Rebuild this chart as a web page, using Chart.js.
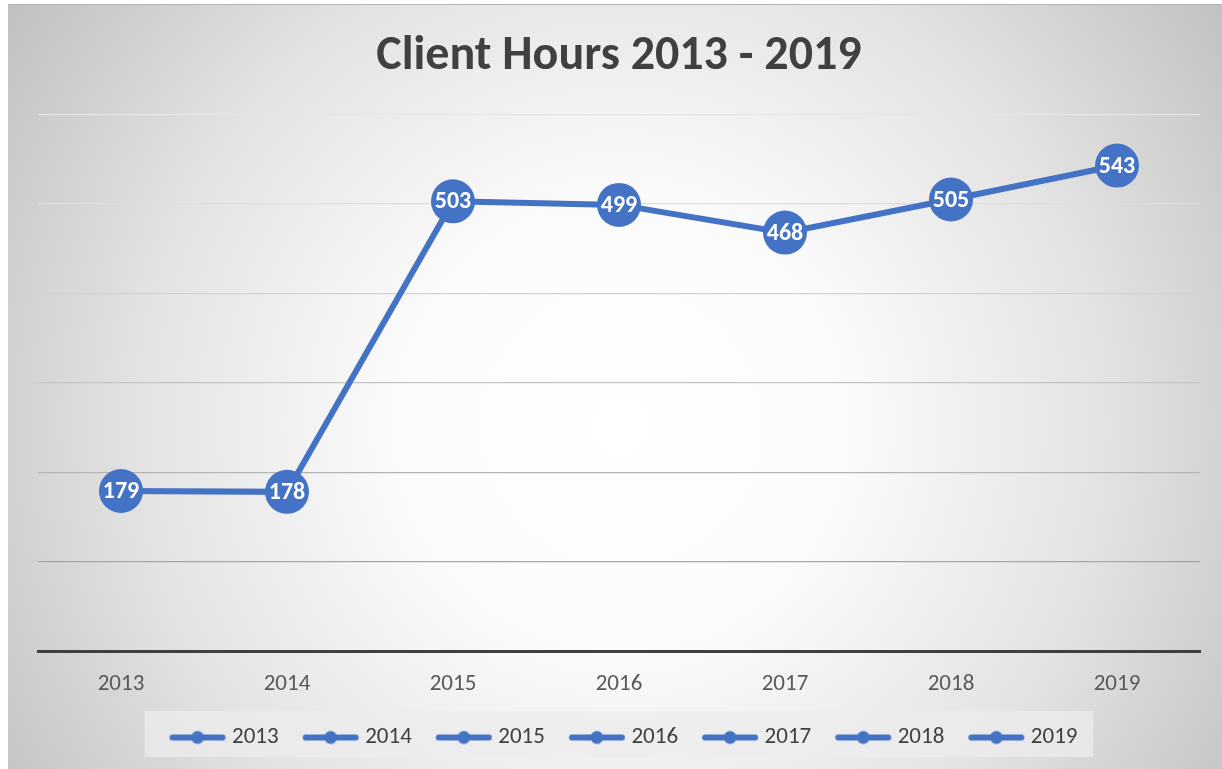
<!DOCTYPE html>
<html>
<head>
<meta charset="utf-8">
<script src="https://cdn.jsdelivr.net/npm/chart.js@4/dist/chart.umd.min.js"></script>
<style>
  html, body { margin: 0; padding: 0; background: #ffffff; }
  #wrap { position: absolute; left: 8px; top: 4px; width: 1214px; height: 765px; }
  #wrap::before { content: ""; position: absolute; left: 0; top: 0; right: 0; height: 1px; background: #b4b4b4; z-index: 2; }
  canvas { display: block; }
</style>
</head>
<body>
<div id="wrap"><canvas id="c" width="1214" height="765"></canvas></div>
<script>
const categories = ['2013', '2014', '2015', '2016', '2017', '2018', '2019'];
const clientHours = [179, 178, 503, 499, 468, 505, 543];
const chartTitle = 'Client Hours 2013 - 2019';
const seriesColor = '#4472C4';
const gridShades = ['#9a9a9a', '#a6a6a6', '#b4b4b4', '#c4c4c4', '#d2d2d2', '#dedede', '#e6e6e6'];

const FONT = "Carlito, Lato, 'Open Sans', sans-serif";
const LEGEND_SHIFT = 7;

// legend marker: line with dot
function makeMarker() {
  const cv = document.createElement('canvas');
  cv.width = 58; cv.height = 16;
  const g = cv.getContext('2d');
  g.strokeStyle = seriesColor;
  g.lineWidth = 6;
  g.lineCap = 'round';
  g.beginPath(); g.moveTo(4, 8); g.lineTo(54, 8); g.stroke();
  g.fillStyle = seriesColor;
  g.beginPath(); g.arc(29, 8, 6.5, 0, Math.PI * 2); g.fill();
  return cv;
}
const marker = makeMarker();

const bgPlugin = {
  id: 'bg',
  afterLayout(chart) {
    const lg = chart.legend;
    if (lg) { lg.left += LEGEND_SHIFT; lg.right += LEGEND_SHIFT; }
  },
  beforeDraw(chart) {
    const {ctx, width, height} = chart;
    const cx = width * 0.505, cy = height * 0.55;
    const r = Math.sqrt(cx * cx + cy * cy);
    const grd = ctx.createRadialGradient(cx, cy, 0, cx, cy, r);
    grd.addColorStop(0, '#ffffff');
    grd.addColorStop(0.3, '#fbfbfb');
    grd.addColorStop(0.65, '#e3e3e3');
    grd.addColorStop(1, '#c0c0c0');
    ctx.save();
    ctx.fillStyle = grd;
    ctx.fillRect(0, 0, width, height);
    // legend background box
    const lg = chart.legend;
    if (lg && lg.lineWidths && lg.lineWidths.length) {
      const pad = lg.options.labels.padding;
      const start = (lg.left + pad + lg.right - lg.lineWidths[0]) / 2;
      const end = start + lg.lineWidths[0] - pad;
      const left = start - 30;
      const right = end + 16;
      const midY = 730;
      ctx.fillStyle = 'rgba(236,236,236,0.75)';
      ctx.fillRect(left, midY - 23, right - left, 46);
    }
    ctx.restore();
  }
};

const labelPlugin = {
  id: 'vlabels',
  afterDatasetsDraw(chart) {
    const {ctx} = chart;
    const meta = chart.getDatasetMeta(0);
    ctx.save();
    ctx.fillStyle = '#ffffff';
    ctx.font = "bold 24px " + FONT;
    ctx.textAlign = 'center';
    ctx.textBaseline = 'middle';
    meta.data.forEach((pt, i) => {
      ctx.fillText(String(chart.data.datasets[0].data[i]), pt.x, pt.y + 1);
    });
    ctx.restore();
  }
};

new Chart(document.getElementById('c'), {
  type: 'line',
  data: {
    labels: categories,
    datasets: [{
      label: 'Client Hours',
      data: clientHours,
      borderColor: seriesColor,
      backgroundColor: seriesColor,
      borderWidth: 6,
      pointRadius: 22,
      pointHoverRadius: 22,
      pointBorderWidth: 0,
      pointBackgroundColor: seriesColor,
      tension: 0,
      fill: false
    }]
  },
  options: {
    responsive: false,
    animation: false,
    events: [],
    layout: { padding: { left: 30, right: 22, top: 0, bottom: 10 } },
    plugins: {
      title: {
        display: true,
        text: chartTitle,
        color: '#404040',
        font: { family: FONT, size: 48, weight: 'bold', lineHeight: 1.2 },
        padding: { top: 24, bottom: 29 }
      },
      legend: {
        display: true,
        position: 'bottom',
        labels: {
          usePointStyle: true,
          pointStyleWidth: 46,
          boxHeight: 20,
          padding: 29,
          color: '#404040',
          font: { family: FONT, size: 23 },
          generateLabels() {
            return categories.map((c, i) => ({
              text: c,
              pointStyle: marker,
              fillStyle: seriesColor,
              strokeStyle: seriesColor,
              lineWidth: 0,
              hidden: false,
              datasetIndex: 0,
              fontColor: '#404040'
            }));
          }
        }
      },
      tooltip: { enabled: false }
    },
    scales: {
      x: {
        offset: true,
        grid: { display: false, drawTicks: false, offset: true },
        border: { display: true, color: '#404040', width: 3 },
        ticks: { color: '#595959', padding: 19, font: { family: FONT, size: 23 } },
        afterFit(scale) { scale.height = 46; }
      },
      y: {
        min: 0, max: 600,
        ticks: { display: false, stepSize: 100 },
        grid: {
          drawTicks: false,
          lineWidth: 1.2,
          color: (ctx) => ctx.index === 0 ? 'rgba(0,0,0,0)' : gridShades[ctx.index] || '#dddddd'
        },
        border: { display: false }
      }
    }
  },
  plugins: [bgPlugin, labelPlugin]
});
</script>
</body>
</html>
